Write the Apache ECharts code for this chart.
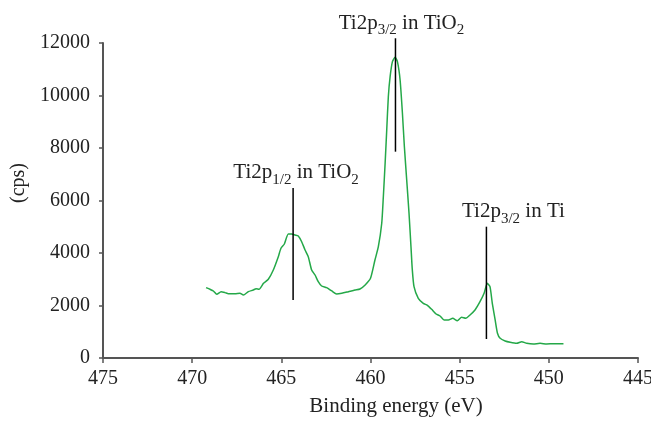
<!DOCTYPE html>
<html>
<head>
<meta charset="utf-8">
<script src="https://cdn.jsdelivr.net/npm/echarts@6/dist/echarts.min.js"></script>
<style>html,body{margin:0;padding:0;background:#fff}#c{width:651px;height:421px}</style>
</head>
<body>
<div id="c"></div>
<script>
// Binding energy (eV)
var energy = [469.22,469.0,468.81,468.62,468.38,468.15,467.97,467.6,467.32,467.13,466.85,466.57,466.42,466.25,466.0,465.73,465.45,465.17,465.02,464.83,464.61,464.42,464.23,464.05,463.86,463.67,463.49,463.3,463.11,462.93,462.74,462.46,462.17,461.9,461.61,461.24,460.87,460.59,460.3,460.0,459.75,459.56,459.37,459.28,459.18,459.09,459.0,458.9,458.77,458.62,458.49,458.34,458.21,458.1,457.97,457.84,457.73,457.66,457.56,457.32,457.04,456.81,456.57,456.32,456.1,455.87,455.63,455.39,455.13,454.89,454.66,454.42,454.14,453.86,453.63,453.45,453.3,453.17,453.01,452.88,452.73,452.45,452.17,451.8,451.52,451.24,450.87,450.49,450.12,449.74,449.18];
// Counts per second
var cps = [2680,2617,2553,2427,2527,2490,2450,2450,2465,2400,2527,2590,2640,2617,2846,3000,3353,3860,4180,4343,4724,4724,4686,4648,4430,4115,3860,3353,3162,2907,2743,2680,2553,2438,2465,2527,2590,2629,2781,3036,3734,4240,5132,6146,7418,8687,9955,10717,11290,11456,11290,10592,9323,8050,6782,5513,4240,3400,2717,2274,2084,2008,1855,1676,1600,1448,1448,1512,1421,1550,1512,1638,1829,2145,2465,2846,2717,2084,1448,941,750,648,598,560,621,560,533,560,533,545,545];
// Annotations
var annLabels = ['{m|Ti2p}{s|1/2}{m| in TiO}{s|2}', '{m|Ti2p}{s|3/2}{m| in TiO}{s|2}', '{m|Ti2p}{s|3/2}{m| in Ti}'];
var annX = [464.34, 458.6, 453.5];
var annLow = [2210, 7860, 724];
var annHigh = [6477, 12180, 5002];
var xTicks = [475, 470, 465, 460, 455, 450, 445];
var yTicks = [0, 2000, 4000, 6000, 8000, 10000, 12000];

var FONT = '"Liberation Serif", "DejaVu Serif", serif';
var seriesData = energy.map(function (e, i) { return [e, cps[i]]; });
var annData = annX.map(function (x, i) { return [x, annLow[i], annHigh[i], i]; });
var labelDx = [3, 6, 27];
var RICH = {
  m: { fontFamily: FONT, fontSize: 21, fill: '#222', lineHeight: 22, verticalAlign: 'top' },
  s: { fontFamily: FONT, fontSize: 15, fill: '#222', lineHeight: 15, verticalAlign: 'top', padding: [10, 0, 0, 0] }
};

var chart = echarts.init(document.getElementById('c'), null, { renderer: 'canvas' });
chart.setOption({
  animation: false,
  grid: { left: 103, right: 13, top: 43, bottom: 63, outerBoundsMode: 'none', containLabel: false },
  xAxis: {
    type: 'value', inverse: true, min: xTicks[xTicks.length - 1], max: xTicks[0], interval: 5,
    splitLine: { show: false },
    axisLine: { lineStyle: { color: '#555', width: 2 } },
    axisTick: { show: true, length: 5, lineStyle: { color: '#555', width: 1.5 } },
    axisLabel: { color: '#222', fontFamily: FONT, fontSize: 20, margin: 11 }
  },
  yAxis: {
    type: 'value', min: yTicks[0], max: yTicks[yTicks.length - 1], interval: 2000,
    splitLine: { show: false },
    axisLine: { show: true, lineStyle: { color: '#555', width: 2 } },
    axisTick: { show: true, length: 4, lineStyle: { color: '#555', width: 1.5 } },
    axisLabel: { color: '#222', fontFamily: FONT, fontSize: 20, margin: 13, formatter: function (v) { return String(v); } }
  },
  graphic: [
    { type: 'text', x: 396, y: 406, style: { text: 'Binding energy (eV)', fill: '#222', font: '21px ' + FONT, textAlign: 'center', textVerticalAlign: 'middle' } },
    { type: 'text', x: 19, y: 183, rotation: Math.PI / 2, style: { text: '(cps)', fill: '#222', font: '20px ' + FONT, textAlign: 'center', textVerticalAlign: 'middle' } }
  ],
  series: [{
    type: 'line',
    data: seriesData,
    showSymbol: false,
    smooth: 0.2,
    lineStyle: { color: '#24a848', width: 1.5 },
    emphasis: { disabled: true },
    z: 2
  }, {
    type: 'custom',
    data: annData,
    clip: false,
    silent: true,
    z: 3,
    encode: { x: 0, y: [1, 2] },
    renderItem: function (params, api) {
      var x = api.value(0), idx = api.value(3);
      var p1 = api.coord([x, api.value(1)]);
      var p2 = api.coord([x, api.value(2)]);
      return {
        type: 'group',
        children: [
          { type: 'line', shape: { x1: p1[0], y1: p1[1], x2: p2[0], y2: p2[1] }, style: { stroke: '#000', lineWidth: 1.5 } },
          { type: 'text', x: p2[0] + labelDx[idx], y: p2[1] - 3.5,
            style: { text: annLabels[idx], rich: RICH, align: 'center', verticalAlign: 'bottom', fill: '#222' } }
        ]
      };
    }
  }]
});
</script>
</body>
</html>
